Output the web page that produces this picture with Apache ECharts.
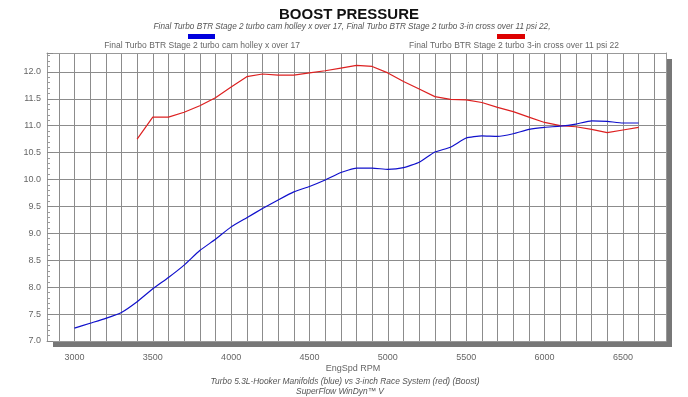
<!DOCTYPE html>
<html>
<head>
<meta charset="utf-8">
<script src="https://cdn.jsdelivr.net/npm/echarts@6/dist/echarts.min.js"></script>
<style>
  html, body { margin: 0; padding: 0; background: #fff; }
  #chart { width: 688px; height: 397px; }
</style>
</head>
<body>
<div id="chart"></div>
<script>
// rpm steps, one reading every 100 rpm
const rpmBlue = [3000, 3100, 3200, 3300, 3400, 3500, 3600, 3700, 3800, 3900, 4000, 4100, 4200, 4300, 4400, 4500, 4600, 4700, 4800, 4900, 5000, 5100, 5200, 5300, 5400, 5500, 5600, 5700, 5800, 5900, 6000, 6100, 6200, 6300, 6400, 6500, 6600];
const boostBlue = [7.24, 7.33, 7.42, 7.53, 7.73, 7.97, 8.18, 8.41, 8.68, 8.89, 9.12, 9.29, 9.46, 9.62, 9.77, 9.87, 9.99, 10.13, 10.21, 10.21, 10.19, 10.22, 10.32, 10.51, 10.60, 10.77, 10.81, 10.80, 10.85, 10.93, 10.97, 10.99, 11.03, 11.09, 11.08, 11.05, 11.05];

const rpmRed = [3400, 3500, 3600, 3700, 3800, 3900, 4000, 4100, 4200, 4300, 4400, 4500, 4600, 4700, 4800, 4900, 5000, 5100, 5200, 5300, 5400, 5500, 5600, 5700, 5800, 5900, 6000, 6100, 6200, 6300, 6400, 6500, 6600];
const boostRed = [10.75, 11.16, 11.16, 11.25, 11.37, 11.52, 11.72, 11.91, 11.96, 11.94, 11.94, 11.98, 12.02, 12.07, 12.12, 12.10, 11.98, 11.82, 11.68, 11.54, 11.49, 11.48, 11.43, 11.34, 11.26, 11.16, 11.06, 11.00, 10.98, 10.93, 10.87, 10.92, 10.97];

const xLabels = [3000, 3500, 4000, 4500, 5000, 5500, 6000, 6500];
const xGrid = [];
for (let r = 2900; r <= 6700; r += 100) xGrid.push(r);

const nameBlue = 'Final Turbo BTR Stage 2 turbo cam holley x over 17';
const nameRed = 'Final Turbo BTR Stage 2 turbo 3-in cross over 11 psi 22';

const chart = echarts.init(document.getElementById('chart'), null, { renderer: 'canvas' });

const font = 'Liberation Sans, Arial, sans-serif';
const frame = { show: true, onZero: false, lineStyle: { color: '#999', width: 1 } };

chart.setOption({
  animation: false,
  backgroundColor: '#fff',
  title: [
    {
      text: 'BOOST PRESSURE',
      left: 344, top: 2, textAlign: 'center',
      textStyle: { fontFamily: font, fontSize: 15, fontWeight: 'bold', color: '#111' }
    },
    {
      text: nameBlue + ', ' + nameRed + ',',
      left: 347, top: 18, textAlign: 'center',
      textStyle: { fontFamily: font, fontSize: 8.2, fontStyle: 'italic', fontWeight: 'normal', color: '#555' }
    }
  ],
  graphic: [
    { type: 'rect', shape: { x: 188, y: 34, width: 27, height: 5 }, style: { fill: '#0000dd' } },
    { type: 'rect', shape: { x: 497, y: 34, width: 28, height: 5 }, style: { fill: '#dd0000' } },
    { type: 'text', x: 202, y: 46, style: { text: nameBlue, fontFamily: font, fontSize: 8.5, fill: '#666', align: 'center', verticalAlign: 'middle' } },
    { type: 'text', x: 514, y: 46, style: { text: nameRed, fontFamily: font, fontSize: 8.5, fill: '#666', align: 'center', verticalAlign: 'middle' } },
    { type: 'text', x: 353, y: 369, style: { text: 'EngSpd RPM', fontFamily: font, fontSize: 9, fill: '#666', align: 'center', verticalAlign: 'middle' } },
    { type: 'text', x: 345, y: 382, style: { text: 'Turbo 5.3L-Hooker Manifolds (blue) vs 3-inch Race System (red) (Boost)', fontFamily: font, fontSize: 8.4, fontStyle: 'italic', fill: '#555', align: 'center', verticalAlign: 'middle' } },
    { type: 'text', x: 340, y: 392, style: { text: 'SuperFlow WinDyn\u2122 V', fontFamily: font, fontSize: 8.4, fontStyle: 'italic', fill: '#555', align: 'center', verticalAlign: 'middle' } }
  ],
  grid: {
    show: true,
    left: 47, right: 22, top: 53, bottom: 56,
    backgroundColor: '#fff',
    borderWidth: 0,
    shadowColor: '#777',
    shadowBlur: 0,
    shadowOffsetX: 6,
    shadowOffsetY: 6
  },
  xAxis: [
    {
      type: 'value',
      min: 2825, max: 6775,
      axisLine: frame,
      axisTick: { show: true, customValues: xGrid, length: 0, lineStyle: { color: '#888' } },
      axisLabel: {
        customValues: xLabels,
        margin: 12,
        fontFamily: font, fontSize: 9, color: '#666',
        formatter: v => String(v)
      },
      splitLine: { show: true, lineStyle: { color: '#8c8c8c', width: 1 } }
    },
    {
      type: 'value', position: 'top',
      min: 2825, max: 6775,
      axisLine: frame, axisTick: { show: false }, axisLabel: { show: false }, splitLine: { show: false }
    }
  ],
  yAxis: [
    {
      type: 'value',
      min: 7, max: 12.35, interval: 0.5,
      axisLine: frame,
      axisTick: { show: true, inside: true, length: 6, lineStyle: { color: '#888' } },
      minorTick: { show: true, splitNumber: 5, length: 3, lineStyle: { color: '#999' } },
      axisLabel: {
        margin: 6,
        fontFamily: font, fontSize: 9, color: '#666',
        formatter: v => Math.abs(v * 2 - Math.round(v * 2)) < 1e-6 ? v.toFixed(1) : ''
      },
      splitLine: { show: true, lineStyle: { color: '#8c8c8c', width: 1 } }
    },
    {
      type: 'value', position: 'right',
      min: 7, max: 12.35, interval: 0.5,
      axisLine: frame, axisTick: { show: false }, axisLabel: { show: false }, splitLine: { show: false }
    }
  ],
  series: [
    {
      name: nameBlue, type: 'line', showSymbol: false, smooth: 0.15,
      data: rpmBlue.map((r, i) => [r, boostBlue[i]]),
      lineStyle: { color: '#1010cc', width: 1.2 },
      z: 3
    },
    {
      name: nameRed, type: 'line', showSymbol: false, smooth: false,
      data: rpmRed.map((r, i) => [r, boostRed[i]]),
      lineStyle: { color: '#dd2020', width: 1.2 },
      z: 2
    }
  ]
});
</script>
</body>
</html>
